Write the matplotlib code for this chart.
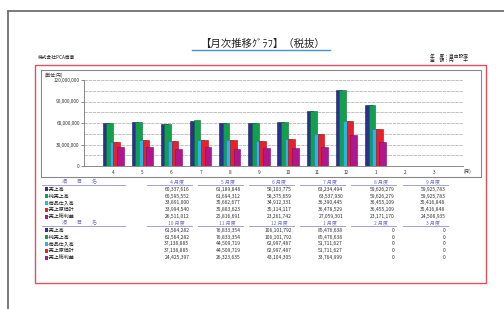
import matplotlib
matplotlib.use('Agg')
import matplotlib.pyplot as plt
from matplotlib.patches import Rectangle
import numpy as np

plt.rcParams['font.family'] = ['Noto Sans CJK JP', 'DejaVu Sans']

# data
months = ['4', '5', '6', '7', '8', '9', '10', '11', '12', '1', '2', '3']
items = ['売上高', '純売上高', '商品仕入高', '売上原価計', '売上総利益']
uriage = [60337616, 61189848, 58103775, 63234494, 59626279, 59925783,
          61564282, 76833354, 106101792, 85476638, 0, 0]
jun_uriage = [60595552, 61694312, 58375659, 63537930, 59626279, 59925783,
              61564282, 76833354, 106101792, 85476638, 0, 0]
shiire = [33891000, 35662677, 34912331, 36390445, 36455109, 35416848,
          37138885, 44509719, 62997487, 51711627, 0, 0]
genka = [33994540, 35883623, 35114117, 36478529, 36455109, 35416848,
         37138885, 44509719, 62997487, 51711627, 0, 0]
arari = [26511012, 25816691, 23261742, 27059301, 23171170, 24508935,
         24425397, 26323635, 43104305, 33764999, 0, 0]
series = [uriage, jun_uriage, shiire, genka, arari]
colors = ['#2b2f8e', '#12a04c', '#2ab4e8', '#e8202a', '#b0178f']
edges = ['#1a1d5c', '#0b6b32', '#1a7fa5', '#a01218', '#7a0f63']

W, H = 504, 309
fig = plt.figure(figsize=(W / 100, H / 100), dpi=100)
fig.patch.set_facecolor('white')

# overlay in pixel coords for page decoration and table
ov = fig.add_axes([0, 0, 1, 1])
ov.set_xlim(0, W)
ov.set_ylim(H, 0)
ov.axis('off')

ov.plot([8, W], [11, 11], color='#707070', lw=1.3)
ov.plot([8, 8], [11, H], color='#707070', lw=1.3)
ov.add_patch(Rectangle((35, 65), 451, 218, fill=False, ec='#e05060', lw=1.0))
ov.add_patch(Rectangle((41, 70), 440, 107, fill=False, ec='#888888', lw=0.8))

ov.text(262, 44, '【月次推移ｸﾞﾗﾌ】（税抜）', ha='center', va='center', fontsize=7.5, color='#222222')
ov.plot([192, 330], [49.5, 49.5], color='#4a90d9', lw=1.0)
ov.text(38, 57, '株式会社PCA商事', ha='left', va='center', fontsize=3.4, color='#222222')
ov.text(430, 56, '年　度：自由設定', ha='left', va='center', fontsize=3.4, color='#222222')
ov.text(430, 60.5, '金　額：円　　千', ha='left', va='center', fontsize=3.4, color='#222222')
ov.text(45, 75, '(単位:円)', ha='left', va='center', fontsize=3.4, color='#333333')
ov.text(467, 171, '(月)', ha='center', va='center', fontsize=3.4, color='#333333')

# table
hdr_col = '#7070c0'
line_col = '#a0a0dd'
col_right = [189.5 + 51.2 * i for i in range(6)]
blocks = [(182, list(range(0, 6))), (223, list(range(6, 12)))]
for hy, idxs in blocks:
    ov.text(80, hy, '項　　目　　名', ha='center', va='center', fontsize=3.6, color=hdr_col)
    ov.plot([42, 125], [hy + 2.6, hy + 2.6], color=line_col, lw=0.7)
    for j, m in enumerate(idxs):
        r = col_right[j]
        ov.text(r - 13, hy, months[m] + ' 月度', ha='center', va='center', fontsize=3.6, color=hdr_col)
        ov.plot([r - 43, r + 2], [hy + 2.6, hy + 2.6], color=line_col, lw=0.7)
    for k, name in enumerate(items):
        ry = hy + 7.3 + k * 6.8
        ov.add_patch(Rectangle((45, ry - 2), 2.6, 4, color=colors[k], lw=0))
        ov.text(47.8, ry, '-' + name, ha='left', va='center', fontsize=3.6, color='#222222')
        for j, m in enumerate(idxs):
            ov.text(col_right[j], ry, f'{series[k][m]:,}', ha='right', va='center',
                    fontsize=3.6, color='#333333')

# chart
left, right, top, bottom = 84, 463, 80, 166
ax = fig.add_axes([left / W, (H - bottom) / H, (right - left) / W, (bottom - top) / H])
ax.set_facecolor('none')
x = np.arange(len(months))
offsets = [-0.25, -0.125, 0.0, 0.125, 0.25]
for k, vals in enumerate(series):
    ax.bar(x + offsets[k], vals, width=0.23, color=colors[k], edgecolor=edges[k],
           linewidth=0.4, zorder=3 + k)
ax.set_xlim(-1, 12)
ax.set_ylim(0, 120000000)
ax.set_yticks(np.arange(0, 120000001, 30000000))
ax.set_yticks(np.arange(0, 120000001, 15000000), minor=True)
ax.set_yticklabels([f'{int(v):,}' for v in np.arange(0, 120000001, 30000000)])
ax.yaxis.grid(True, which='both', color='#b8b8b8', lw=0.6, ls=(0, (4, 1)))
ax.set_axisbelow(True)
ax.set_xticks(x)
ax.set_xticklabels(months)
ax.tick_params(axis='y', which='major', length=2, width=0.4, pad=1, labelsize=3.4, colors='#333333')
ax.tick_params(axis='y', which='minor', length=0)
ax.tick_params(axis='x', length=0, pad=3, labelsize=3.4, colors='#333333')
for s in ['top', 'right']:
    ax.spines[s].set_visible(False)
for s in ['left', 'bottom']:
    ax.spines[s].set_color('#777777')
    ax.spines[s].set_linewidth(0.6)

fig.savefig('out.png', dpi=100)
